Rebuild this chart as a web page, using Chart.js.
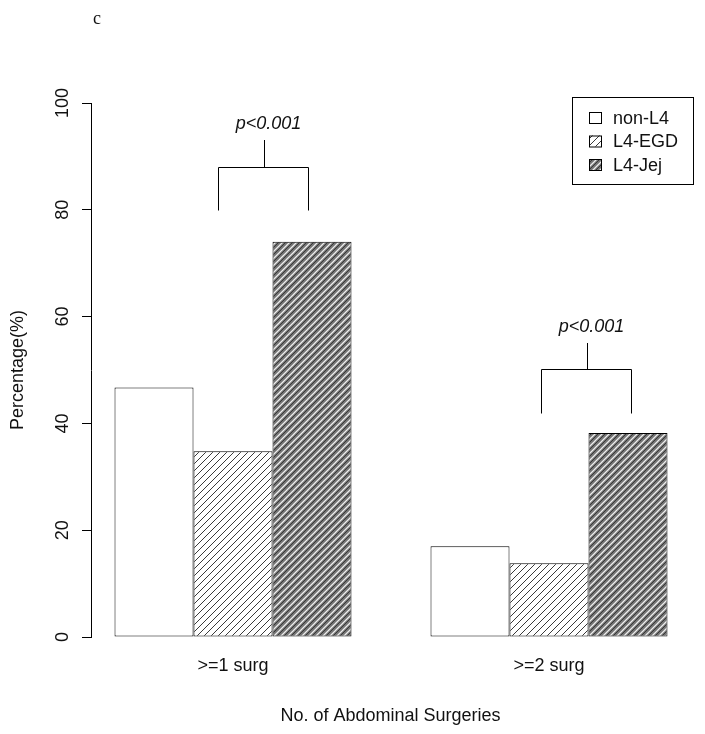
<!DOCTYPE html>
<html>
<head>
<meta charset="utf-8">
<script src="https://cdn.jsdelivr.net/npm/chart.js@4.4.1/dist/chart.umd.min.js"></script>
<style>
  html, body { margin: 0; padding: 0; background: #fff; }
</style>
</head>
<body>
<canvas id="surgChart" width="705" height="734"></canvas>
<script>
// data
const categories = [">=1 surg", ">=2 surg"];
const seriesNames = ["non-L4", "L4-EGD", "L4-Jej"];
const nonL4 = [46.7, 17.0];
const l4Egd = [34.8, 13.8];
const l4Jej = [74.0, 38.2];
const yTicks = [0, 20, 40, 60, 80, 100];

// significance brackets (x in category units, y in %)
const pLabels = ["p<0.001", "p<0.001"];
const bracketLeft = [0.953, 1.975];
const bracketRight = [1.237, 2.259];
const bracketLow = [80, 42];
const bracketHigh = [88, 50.2];
const stemTop = [93, 55];

const FONT = "'Liberation Sans', Arial, sans-serif";
const canvas = document.getElementById("surgChart");
const ctx = canvas.getContext("2d");

// diagonal hatch fill
function hatch(bg, lines, step) {
  const c = document.createElement("canvas");
  c.width = step;
  c.height = step;
  const g = c.getContext("2d");
  g.fillStyle = bg;
  g.fillRect(0, 0, step, step);
  lines.forEach(function (l) {
    g.strokeStyle = l.color;
    g.lineWidth = l.width;
    const o = l.offset;
    g.beginPath();
    for (let k = -1; k <= 1; k++) {
      g.moveTo(-2 + o + k * step, step + 2);
      g.lineTo(step + 2 + o + k * step, -2);
    }
    g.stroke();
  });
  return ctx.createPattern(c, "repeat");
}

const fills = [
  "#ffffff",
  hatch("#ffffff", [{ color: "#3a3a3a", width: 1, offset: 0 }], 7),
  hatch("#747474", [
    { color: "#eeeeee", width: 1.3, offset: 0 },
    { color: "#383838", width: 1, offset: 3 },
  ], 7),
];

function toPoints(arr) {
  return arr.map((v, i) => ({ x: i + 1, y: v }));
}

const extras = {
  id: "extras",
  afterDraw(chart) {
    const c = chart.ctx;
    const xs = chart.scales.x;
    const ys = chart.scales.y;
    const area = chart.chartArea;
    c.save();
    c.fillStyle = "#111";
    c.textAlign = "center";
    c.textBaseline = "middle";

    // y tick labels, rotated like R
    c.font = "18px " + FONT;
    yTicks.forEach(function (t) {
      c.save();
      c.translate(63, ys.getPixelForValue(t));
      c.rotate(-Math.PI / 2);
      c.fillText(String(t), 0, 0);
      c.restore();
    });
    c.save();
    c.translate(18, (area.top + area.bottom) / 2);
    c.rotate(-Math.PI / 2);
    c.fillText("Percentage(%)", 0, 0);
    c.restore();

    // brackets
    c.strokeStyle = "#000";
    c.lineWidth = 1;
    pLabels.forEach(function (lab, i) {
      const x1 = Math.round(xs.getPixelForValue(bracketLeft[i])) + 0.5;
      const x2 = Math.round(xs.getPixelForValue(bracketRight[i])) + 0.5;
      const yl = Math.round(ys.getPixelForValue(bracketLow[i])) + 0.5;
      const yh = Math.round(ys.getPixelForValue(bracketHigh[i])) + 0.5;
      const yt = Math.round(ys.getPixelForValue(stemTop[i]));
      const xm = Math.round((x1 + x2) / 2) + 0.5;
      c.beginPath();
      c.moveTo(x1, yl);
      c.lineTo(x1, yh);
      c.lineTo(x2, yh);
      c.lineTo(x2, yl);
      c.moveTo(xm, yh);
      c.lineTo(xm, yt);
      c.stroke();
      c.font = "italic 18px " + FONT;
      c.fillText(lab, xm + 4, yt - 16);
    });

    // legend box
    const lx = 572, ly = 97, lw = 121, lh = 87;
    c.strokeRect(lx + 0.5, ly + 0.5, lw, lh);
    c.font = "18px " + FONT;
    c.textAlign = "left";
    seriesNames.forEach(function (name, i) {
      const cy = 118 + i * 23.5;
      c.fillStyle = fills[i];
      c.fillRect(589, cy - 6, 12, 11);
      c.strokeRect(589.5, cy - 5.5, 12, 11);
      c.fillStyle = "#111";
      c.fillText(name, 613, cy + 1);
    });

    // panel letter
    c.font = "18px 'Liberation Serif', 'Times New Roman', serif";
    c.fillText("c", 93, 19);
    c.restore();
  },
};

const chart = new Chart(ctx, {
  type: "bar",
  data: {
    datasets: [
      { label: seriesNames[0], data: toPoints(nonL4), backgroundColor: fills[0] },
      { label: seriesNames[1], data: toPoints(l4Egd), backgroundColor: fills[1] },
      { label: seriesNames[2], data: toPoints(l4Jej), backgroundColor: fills[2] },
    ].map((d) =>
      Object.assign(d, {
        borderColor: "#000",
        borderWidth: 1,
        borderSkipped: false,
        categoryPercentage: 0.75,
        barPercentage: 1.0,
      })
    ),
  },
  options: {
    responsive: false,
    animation: false,
    devicePixelRatio: 1,
    layout: { padding: { top: 103, right: 15, bottom: 0, left: 0 } },
    plugins: { legend: { display: false }, tooltip: { enabled: false } },
    scales: {
      x: {
        type: "linear",
        min: 0.5506,
        max: 2.4462,
        offset: false,
        grid: { display: false, drawTicks: false },
        border: { display: false },
        afterBuildTicks(scale) {
          scale.ticks = categories.map((_, i) => ({ value: i + 1 }));
        },
        afterFit(scale) {
          scale.height = 97;
        },
        ticks: {
          padding: 18,
          color: "#111",
          font: { family: FONT, size: 18 },
          callback: (v) => categories[Math.round(v) - 1] || "",
        },
        title: {
          display: true,
          text: "No. of Abdominal Surgeries",
          color: "#111",
          font: { family: FONT, size: 18 },
          padding: { top: 4, bottom: 7 },
        },
      },
      y: {
        min: 0,
        max: 100,
        afterBuildTicks(scale) {
          scale.ticks = yTicks.map((v) => ({ value: v }));
        },
        afterFit(scale) {
          scale.width = 91;
        },
        grid: {
          display: true,
          drawOnChartArea: false,
          drawTicks: true,
          tickLength: 9,
          color: "#000",
        },
        border: { display: true, color: "#000", width: 1 },
        ticks: { display: false },
      },
    },
  },
  plugins: [extras],
});
</script>
</body>
</html>
